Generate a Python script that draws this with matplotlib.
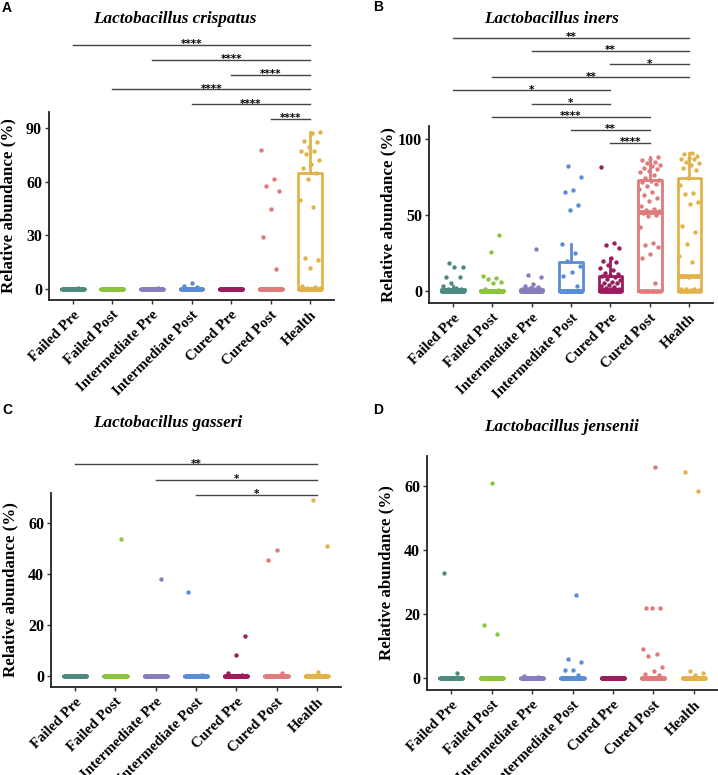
import numpy as np
import matplotlib
matplotlib.use('Agg')
import matplotlib.pyplot as plt
import matplotlib.transforms as mtransforms

plt.rcParams['font.family'] = 'Liberation Serif'
plt.rcParams['font.weight'] = 'bold'

'''DATA'''
groups = ['Failed Pre', 'Failed Post', 'Intermediate Pre', 'Intermediate Post',
          'Cured Pre', 'Cured Post', 'Health']
group_sizes = [34, 34, 34, 34, 55, 55, 45]
colors = ['#4f8a81', '#8cc43e', '#8a7dbd', '#5b8cd6', '#9b1d5e', '#e07b7b', '#e2b34a']

# non-zero abundances per group (the rest of each group sits at 0)
crispatus = [
    [0.8],
    [],
    [0.8],
    [3.2, 1.7, 1.2],
    [],
    [77.5, 61.5, 57.5, 55, 45, 29, 11],
    [88, 87, 82.7, 82, 79.6, 77, 77, 75.6, 72.2, 70, 67.6, 64.8, 61.5, 49.7,
     45.8, 17.1, 16, 11.9, 1.5, 1, 0.8, 0.5, 0.3],
]
iners = [
    [18.5, 16, 16, 9.5, 9.5, 5.5, 3, 2, 1.5, 1, 1, 0.8, 0.5],
    [37, 25.5, 10, 8.5, 8, 6, 5, 1, 0.5],
    [27.8, 10.5, 9.5, 4.5, 3.5, 2.5, 2, 1.5, 1.5, 1, 1, 0.8, 0.5, 0.5],
    [82.3, 75, 66.6, 65.3, 56.5, 53.3, 30.7, 25.2, 19.5, 16.6, 12.7, 9.9, 3.5],
    [81.5, 31.5, 30, 28, 22, 20, 19, 17, 15, 13.5, 12, 11, 10.5, 10, 9.5, 8, 7,
     6, 5.5, 5, 4, 3, 2.5, 2, 1.5, 1, 1, 0.5],
    [88, 87, 86, 85, 84, 83, 82, 81, 80, 79, 78, 76, 74, 73, 72.5, 71.5, 70.5,
     69, 67, 65, 63, 61, 59, 56, 54, 53, 52.5, 52, 51, 50, 49, 42, 31.5, 30, 29,
     24, 21.5, 5],
    [90.5, 90, 89, 87.5, 87, 86.5, 85, 84, 83, 81, 79.5, 74, 70, 64.5, 64, 58.5,
     57.5, 43, 38.5, 31, 23, 19, 10, 10, 9.5, 1.5, 1, 1, 0.5, 0.5],
]
gasseri = [
    [],
    [53.8],
    [38],
    [32.8, 0.5],
    [15.8, 8.2, 1, 0.5],
    [49.3, 45.6, 1],
    [68.9, 51, 1.5],
]
jensenii = [
    [32.7, 1.5],
    [61, 16.6, 13.6],
    [0.5, 0.3],
    [26, 6, 5, 2.5, 2.5, 1],
    [],
    [66, 22, 22, 22, 9, 7.5, 7, 3.5, 2.3, 1.3, 1],
    [64.5, 58.5, 2.2, 1.5, 1],
]

# significance brackets, listed top to bottom
crispatus_pairs = [(0, 6), (2, 6), (4, 6), (1, 6), (3, 6), (5, 6)]
crispatus_stars = ['****'] * 6
iners_pairs = [(0, 6), (2, 6), (4, 6), (1, 6), (0, 4), (2, 4), (1, 5), (3, 5), (4, 5)]
iners_stars = ['**', '**', '*', '**', '*', '*', '****', '**', '****']
gasseri_pairs = [(0, 6), (2, 6), (3, 6)]
gasseri_stars = ['**', '*', '*']

W, H = 718, 775
fig = plt.figure(figsize=(W / 100, H / 100), dpi=100)


def px_axes(left, top, right, bottom):
    return fig.add_axes([left / W, 1 - bottom / H, (right - left) / W, (bottom - top) / H])


def jitter(n, width=0.27):
    k = np.arange(n)
    return ((k * 0.6180339887 + 0.37) % 1.0 - 0.5) * 2 * width


def draw_panel(ax, values, ylim, yticks, pairs=(), stars=(), base=0, step=0):
    for i, vals in enumerate(values):
        full = np.concatenate([np.zeros(group_sizes[i] - len(vals)), np.array(vals, float)])
        c = colors[i]
        ax.boxplot(full, positions=[i], widths=0.6, whis=1.5, showfliers=False,
                   showcaps=False, manage_ticks=False,
                   boxprops=dict(color=c, lw=2.0),
                   whiskerprops=dict(color=c, lw=2.0),
                   medianprops=dict(color=c, lw=3.4))
        ax.scatter(i + jitter(len(full)), full, s=10, color=c, lw=0, zorder=3)

    n = len(pairs)
    for k, ((a, b), lab) in enumerate(zip(pairs, stars)):
        y = base + step * (n - 1 - k)
        ax.plot([a, b], [y, y], color='#444444', lw=1.0, clip_on=False)
        ax.annotate(lab, xy=((a + b) / 2, y), xytext=(0, -3.2), textcoords='offset points',
                    ha='center', va='bottom', fontsize=7.5, family='DejaVu Sans',
                    annotation_clip=False)

    ax.set_xlim(-0.6, 6.6)
    ax.set_ylim(*ylim)
    ax.set_yticks(yticks)
    ax.set_xticks(range(len(groups)))
    ax.set_xticklabels(groups, rotation=45, ha='right', va='top', rotation_mode='anchor',
                       fontsize=10.7, fontweight='bold')
    shift = mtransforms.ScaledTranslation(3 / 100, -1 / 100, fig.dpi_scale_trans)
    for lab in ax.get_xticklabels():
        lab.set_transform(lab.get_transform() + shift)
    ax.tick_params(axis='y', labelsize=11.5, length=3, width=1, pad=2,
                   colors='#333333', labelcolor='black')
    ax.tick_params(axis='x', length=3, width=1, pad=3, colors='#333333', labelcolor='black')
    for s in ['top', 'right']:
        ax.spines[s].set_visible(False)
    for s in ['left', 'bottom']:
        ax.spines[s].set_linewidth(1.3)
        ax.spines[s].set_color('#222222')
    ax.set_ylabel('Relative abundance (%)', fontsize=12.2, fontweight='bold')
    width_px = ax.get_position().width * W
    ax.yaxis.set_label_coords(-33 / width_px, 0.5)


axA = px_axes(49, 112, 334, 300)
draw_panel(axA, crispatus, (-6.1, 98.9), [0, 30, 60, 90],
           crispatus_pairs, crispatus_stars, base=95, step=8.26)

axB = px_axes(429, 126, 713, 303)
draw_panel(axB, iners, (-7.9, 108.5), [0, 50, 100],
           iners_pairs, iners_stars, base=97.4, step=8.63)

axC = px_axes(51, 493, 341, 687)
draw_panel(axC, gasseri, (-4.3, 71.8), [0, 20, 40, 60],
           gasseri_pairs, gasseri_stars, base=71, step=6.05)

axD = px_axes(427, 456, 718, 690)
draw_panel(axD, jensenii, (-3.75, 69.4), [0, 20, 40, 60])

titles = [('Lactobacillus crispatus', 175, 19), ('Lactobacillus iners', 552, 19),
          ('Lactobacillus gasseri', 168, 423), ('Lactobacillus jensenii', 561, 427)]
for t, x, y in titles:
    fig.text(x / W, 1 - y / H, t, ha='center', va='center', fontsize=12.3,
             fontweight='bold', fontstyle='italic')

letters = [('A', 2, 8), ('B', 373, 7), ('C', 2, 410), ('D', 373, 410)]
for t, x, y in letters:
    fig.text(x / W, 1 - y / H, t, ha='left', va='center', fontsize=10,
             fontweight='bold', family='Liberation Sans')

fig.savefig('out.png', dpi=100)
